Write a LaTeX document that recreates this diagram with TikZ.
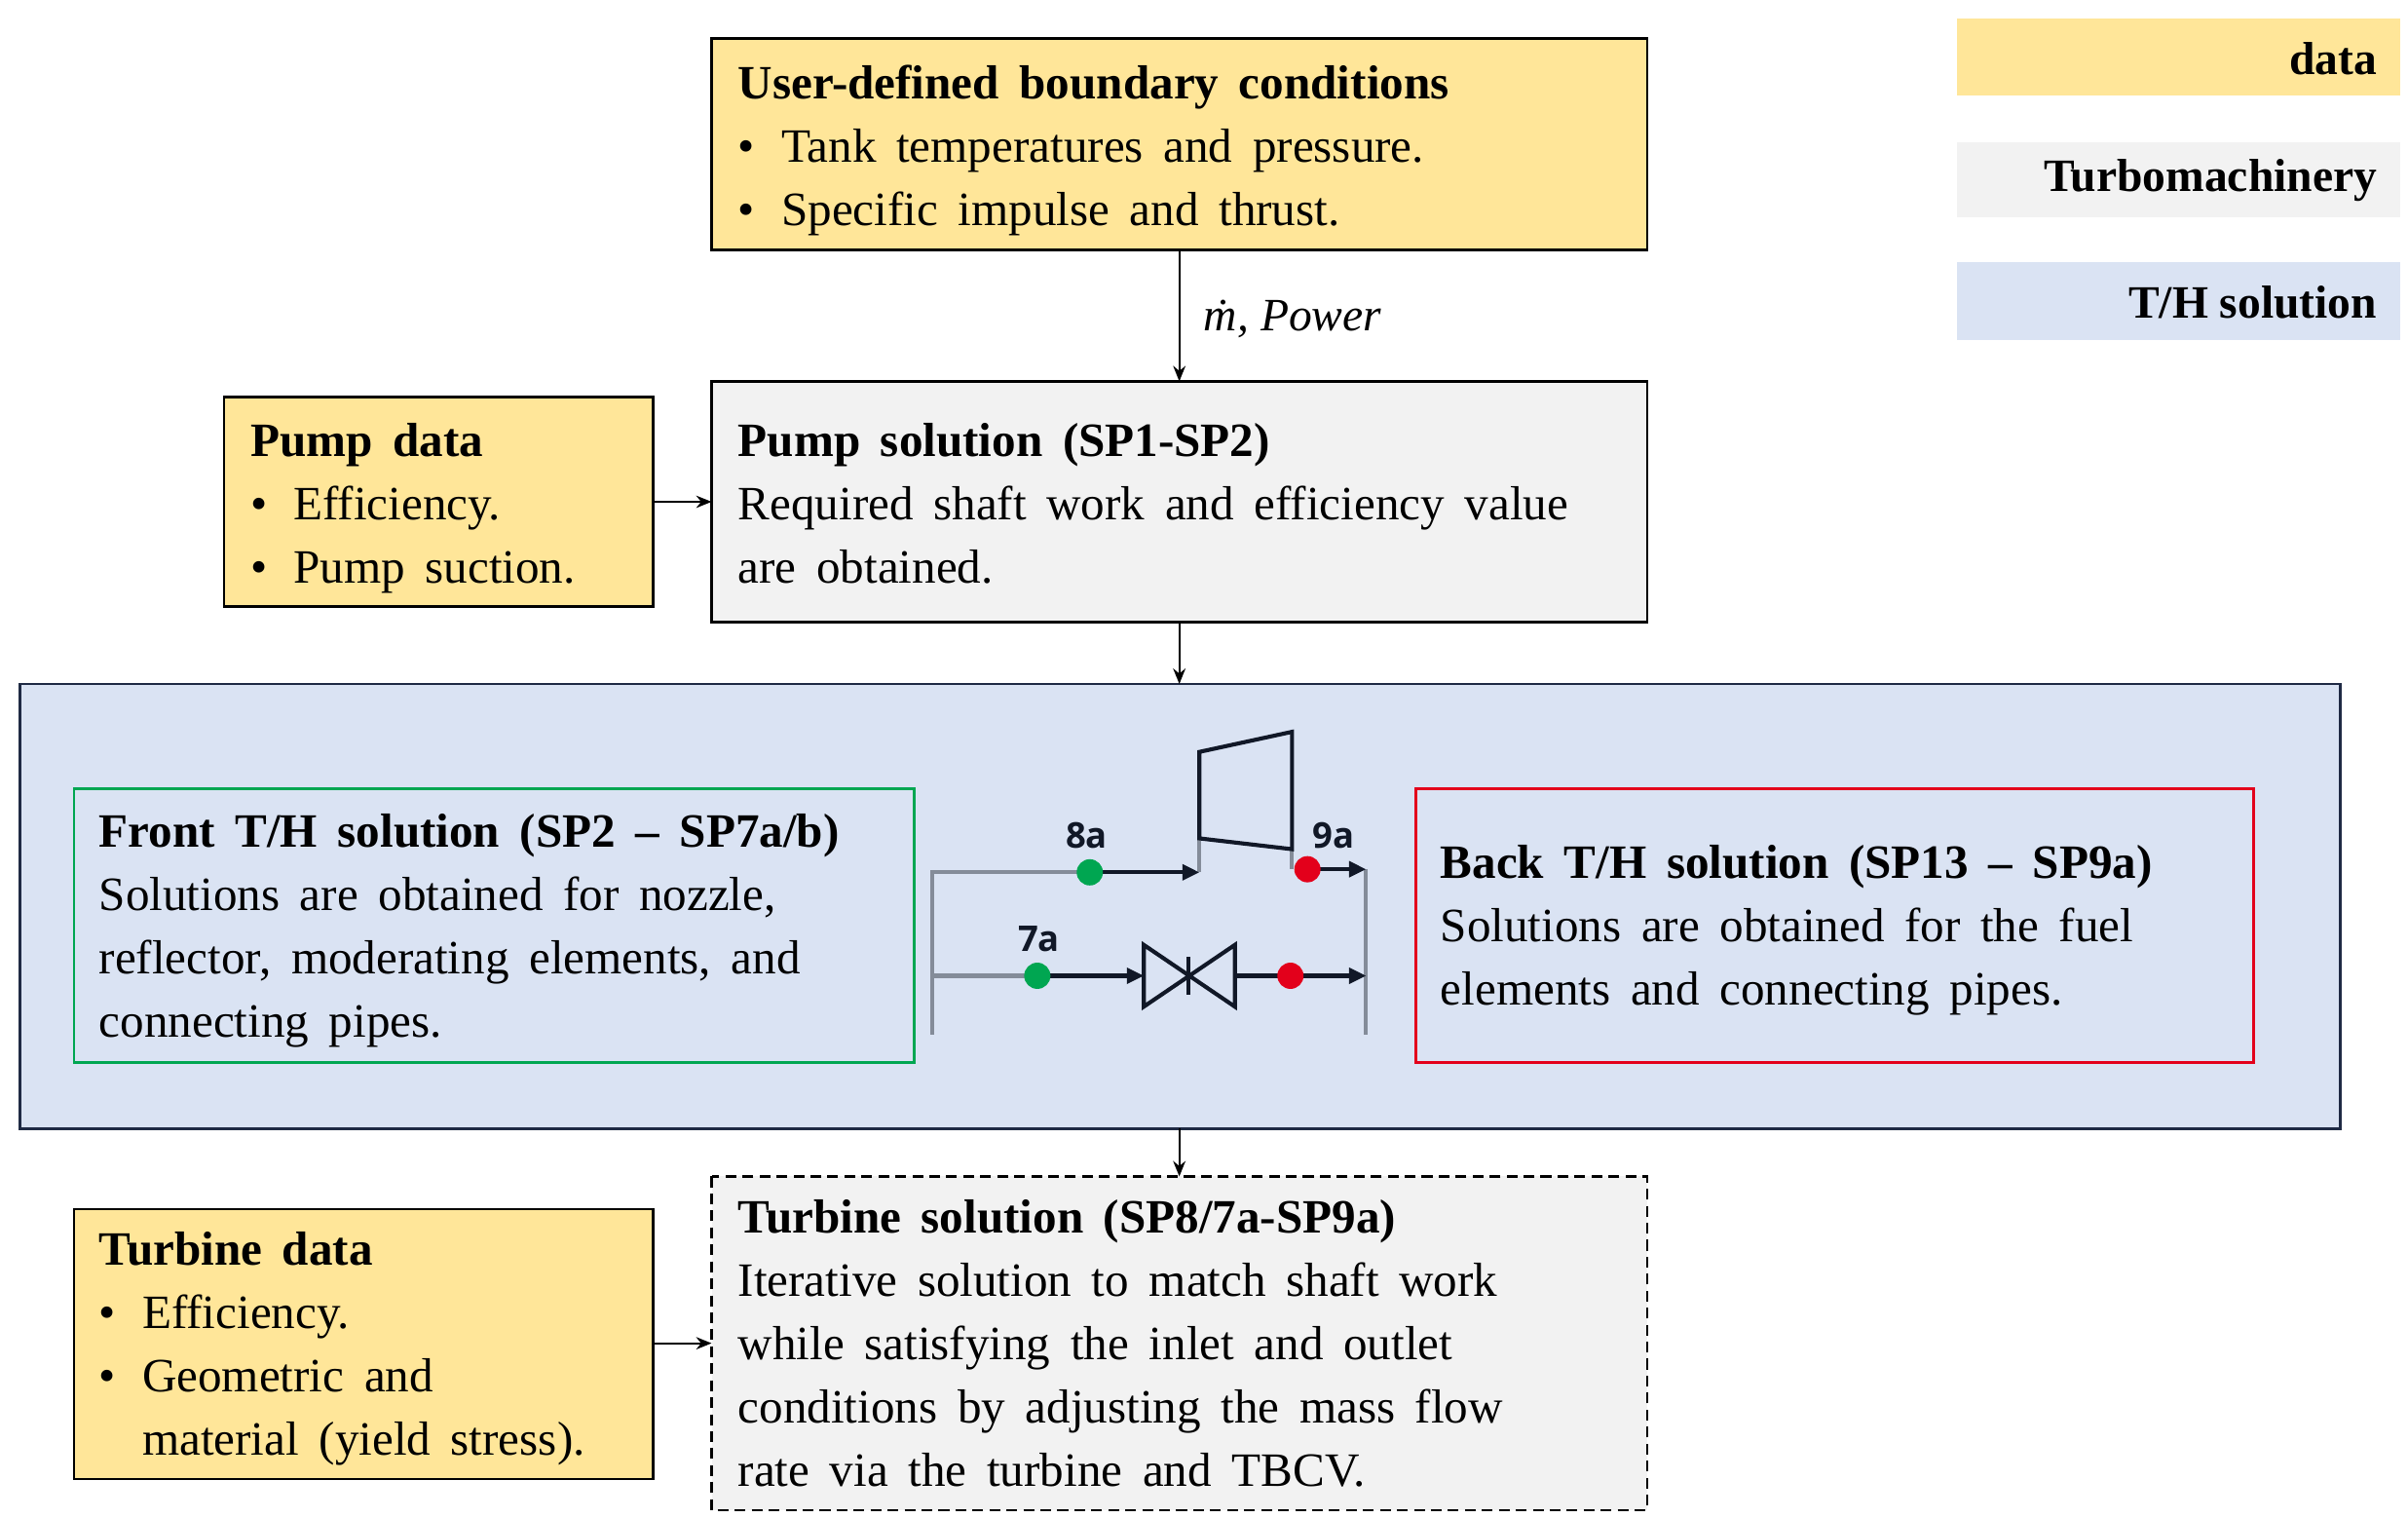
\documentclass[tikz,border=0pt]{standalone}
\usepackage{fontspec}
\setmainfont{Liberation Serif}
\newfontfamily\lblfont{Open Sans}
\usetikzlibrary{arrows.meta}
\definecolor{dataY}{HTML}{FFE699}
\definecolor{turbG}{HTML}{F2F2F2}
\definecolor{thB}{HTML}{DAE3F3}
\definecolor{navy}{HTML}{1F2A44}
\definecolor{grn}{HTML}{00A651}
\definecolor{rd}{HTML}{E3001B}
\definecolor{pipe}{HTML}{848C99}
\definecolor{ink}{HTML}{111827}
\newcommand{\itm}{\makebox[28pt][l]{\textbullet}}
\newcommand{\txtfont}{\fontsize{31}{41}\selectfont\spaceskip=13pt\relax}
\begin{document}
\begin{tikzpicture}[x=1pt,y=-1pt,
  txt/.style={anchor=north west,inner sep=0pt,align=left,font=\txtfont},
  box/.style={draw=black,line width=1.6pt},
  arr/.style={-{Stealth[length=10pt,width=8pt]},line width=1.3pt},
  leg/.style={anchor=east,inner sep=0pt,font=\fontsize{30}{35}\selectfont\bfseries},
  pp/.style={draw=pipe,line width=2.6pt},
  bl/.style={draw=ink,line width=2.6pt},
  fa/.style={bl,-{Triangle[length=11pt,width=10pt]}},
  lab/.style={font=\lblfont\bfseries\fontsize{23}{24}\selectfont,text=ink,inner sep=0pt}]
\useasboundingbox (0,0) rectangle (1560,982.6);
% legend
\fill[dataY] (1268,12) rectangle (1555,62);
\fill[turbG] (1268,92) rectangle (1555,141);
\fill[thB] (1268,170) rectangle (1555,220);
\node[leg] (l1) at (1540,38) {data};
\node[leg] (l2) at (1540,117) {Turbomachinery};
\node[leg] (l3) at (1540,196) {T/H solution};
% top box
\draw[box,fill=dataY] (461,25) rectangle (1067,162);
\coordinate (topS) at (764,162);
\node[txt] (ud) at (478,42) {\textbf{User-defined boundary conditions}\\\itm Tank temperatures and pressure.\\\itm Specific impulse and thrust.};
% pump solution
\draw[box,fill=turbG] (461,247) rectangle (1067,403);
\coordinate (psN) at (764,247);
\coordinate (psS) at (764,403);
\coordinate (psW) at (461,325);
\node[txt] (ps) at (478,274) {\textbf{Pump solution (SP1-SP2)}\\Required shaft work and efficiency value\\are obtained.};
\draw[arr] (topS) -- (psN) node[midway,anchor=west,xshift=12pt,yshift=-2pt,font=\fontsize{30}{35}\selectfont] (mp) {\textit{ṁ, Power}};
% pump data
\draw[box,fill=dataY] (145,257) rectangle (423,393);
\coordinate (pdE) at (423,325);
\node[txt] (pd) at (162,274) {\textbf{Pump data}\\\itm Efficiency.\\\itm Pump suction.};
\draw[arr] (pdE) -- (psW);
% TH box
\draw[draw=navy,line width=1.6pt,fill=thB] (13,443) rectangle (1516,731);
\coordinate (thN) at (764,443);
\coordinate (thS) at (764,731);
\draw[arr] (psS) -- (thN);
\draw[draw=grn,line width=1.8pt] (48,511) rectangle (592,688);
\node[txt] (fr) at (64,527) {\textbf{Front T/H solution (SP2 -- SP7a/b)}\\Solutions are obtained for nozzle,\\reflector, moderating elements, and\\connecting pipes.};
\draw[draw=rd,line width=1.8pt] (917,511) rectangle (1460,688);
\node[txt] (bk) at (933,547) {\textbf{Back T/H solution (SP13 -- SP9a)}\\Solutions are obtained for the fuel\\elements and connecting pipes.};
% schematic
\coordinate (g8) at (706,565); \coordinate (t8) at (777,565);
\coordinate (tl) at (777,543); \coordinate (r9) at (847,563); \coordinate (e9) at (885,563);
\coordinate (g7) at (672,632); \coordinate (v1) at (741,632); \coordinate (v2) at (800,632);
\coordinate (r7) at (836,632); \coordinate (e7) at (885,632);
\draw[pp] (604,670) -- (604,565) -- (g8);
\draw[pp] (604,632) -- (g7);
\draw[pp] (t8) -- (tl);
\draw[pp] (837,550) -- (837,563);
\draw[pp] (885,563) -- (885,670);
\draw[bl,line join=miter] (777,543) -- (777,487) -- (837,474) -- (837,550) -- cycle;
\draw[fa] (g8) -- (t8);
\draw[fa] (r9) -- (e9);
\draw[fa] (g7) -- (v1);
\draw[bl] (v2) -- (r7);
\draw[fa] (r7) -- (e7);
\draw[bl,line join=miter] (741,612) -- (741,652) -- (800,612) -- (800,652) -- cycle;
\draw[bl] (770,620) -- (770,644);
\fill[grn] (g8) circle (8.5); \fill[grn] (g7) circle (8.5);
\fill[rd] (r9) circle (8.5); \fill[rd] (r7) circle (8.5);
\node[lab] (n8) at (704,541) {8a};
\node[lab] (n9) at (864,541) {9a};
\node[lab] (n7) at (673,608) {7a};
% turbine solution
\draw[box,dashed,dash pattern=on 7pt off 4pt,fill=turbG] (461,762) rectangle (1067,978);
\coordinate (tsN) at (764,762);
\coordinate (tsW) at (461,870);
\draw[arr] (thS) -- (tsN);
\node[txt] (ts) at (478,777) {\textbf{Turbine solution (SP8/7a-SP9a)}\\Iterative solution to match shaft work\\while satisfying the inlet and outlet\\conditions by adjusting the mass flow\\rate via the turbine and TBCV.};
% turbine data
\draw[box,fill=dataY] (48,783) rectangle (423,958);
\coordinate (tdE) at (423,870);
\node[txt] (td) at (64,798) {\textbf{Turbine data}\\\itm Efficiency.\\\itm Geometric and\\\hspace*{28pt}material (yield stress).};
\draw[arr] (tdE) -- (tsW);
\end{tikzpicture}
\end{document}
